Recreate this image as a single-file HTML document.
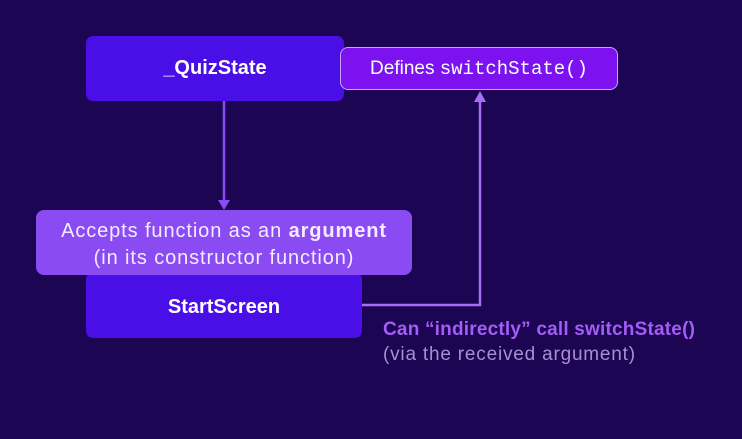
<!DOCTYPE html>
<html><head><style>
body{margin:0;width:742px;height:439px;background:#1c0552;overflow:hidden;position:relative;font-family:"Liberation Sans",sans-serif}
.b{position:absolute;box-sizing:border-box;display:flex;align-items:center;justify-content:center;color:#fff;text-align:center}
</style></head><body>
<div class="b" style="left:86px;top:36px;width:258px;height:65px;background:#4a0ee6;border-radius:7px;font-weight:bold;font-size:20px">_QuizState</div>
<div class="b" style="left:340px;top:47px;width:278px;height:43px;background:#7c12f0;border:1.5px solid #c7a3ff;border-radius:8px;font-size:19px">Defines&nbsp;<span style="font-family:'Liberation Mono',monospace">switchState()</span></div>
<div class="b" style="left:86px;top:272px;width:276px;height:66px;background:#4a0ee6;border-radius:7px;font-weight:bold;font-size:20px;padding-top:4px">StartScreen</div>
<div style="position:absolute;box-sizing:border-box;left:36px;top:210px;width:376px;height:65px;background:#8a4cf2;border-radius:8px;font-size:20px;line-height:27px;padding-top:8px;color:#f3ecff;text-align:center;letter-spacing:0.9px">Accepts function as an <b>argument</b><br>(in its constructor function)</div>
<svg style="position:absolute;left:0;top:0" width="742" height="439">
<line x1="224" y1="101" x2="224" y2="202" stroke="#8a4cf2" stroke-width="2.5"/>
<polygon points="218,200 230,200 224,210" fill="#8a4cf2"/>
<polyline points="362,305 480,305 480,100" fill="none" stroke="#a66ef5" stroke-width="2.5"/>
<polygon points="474,102 486,102 480,91" fill="#a66ef5"/>
</svg>
<div style="position:absolute;left:383px;top:319px;color:#a35cf5;font-weight:bold;font-size:19px;letter-spacing:0.2px">Can “indirectly” call switchState()</div>
<div style="position:absolute;left:383px;top:344px;color:#a98fd0;font-size:19px;letter-spacing:0.8px">(via the received argument)</div>
</body></html>
